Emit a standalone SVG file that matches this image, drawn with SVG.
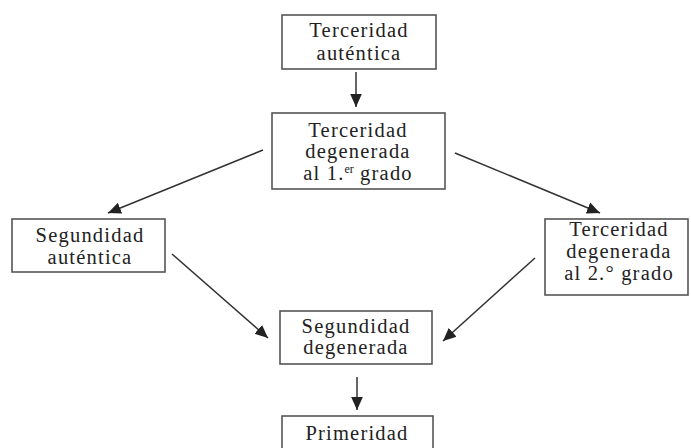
<svg xmlns="http://www.w3.org/2000/svg" width="691" height="448" viewBox="0 0 691 448">
  <style>
    .box rect { fill: #fff; stroke: #555; stroke-width: 1.6; }
    .box text { font-family: "Liberation Serif", "Times New Roman", serif; font-size: 20.5px; letter-spacing: 1.2px; fill: #222; text-anchor: middle; }
    .sup { font-size: 12px; letter-spacing: 0; }
    #connectors line { stroke: #333; stroke-width: 1.5; marker-end: url(#arrow); }
  </style>
  <defs>
    <marker id="arrow" viewBox="0 0 10 10" refX="10" refY="5" markerWidth="13" markerHeight="13" markerUnits="userSpaceOnUse" orient="auto">
      <path d="M0,0.5 L10,5 L0,9.5 z" fill="#222"/>
    </marker>
  </defs>
  <rect width="691" height="448" fill="#fff"/>

  <g id="connectors">
    <line x1="356" y1="72" x2="356" y2="107"/>
    <line x1="263" y1="150" x2="108" y2="213"/>
    <line x1="455" y1="153" x2="600" y2="213"/>
    <line x1="172" y1="254" x2="268" y2="338"/>
    <line x1="535" y1="258" x2="443" y2="341"/>
    <line x1="357" y1="377" x2="357" y2="410"/>
  </g>

  <g id="n-terceridad-autentica" class="box">
    <rect x="282" y="15" width="154" height="54"/>
    <text x="359" y="37">Terceridad</text>
    <text x="359" y="60">auténtica</text>
  </g>

  <g id="n-terceridad-deg1" class="box">
    <rect x="272" y="113" width="173" height="76"/>
    <text x="358" y="137">Terceridad</text>
    <text x="358" y="158">degenerada</text>
    <text x="358" y="180">al 1.<tspan class="sup" dy="-7">er</tspan><tspan dy="7"> grado</tspan></text>
  </g>

  <g id="n-segundidad-autentica" class="box">
    <rect x="12" y="219" width="153" height="53"/>
    <text x="90" y="242">Segundidad</text>
    <text x="90" y="264">auténtica</text>
  </g>

  <g id="n-terceridad-deg2" class="box">
    <rect x="545" y="219" width="143" height="76"/>
    <text x="619" y="236">Terceridad</text>
    <text x="619" y="258">degenerada</text>
    <text x="619" y="280">al 2.° grado</text>
  </g>

  <g id="n-segundidad-degenerada" class="box">
    <rect x="280" y="311" width="152" height="53"/>
    <text x="356" y="333">Segundidad</text>
    <text x="356" y="354">degenerada</text>
  </g>

  <g id="n-primeridad" class="box">
    <rect x="282" y="416" width="151" height="54"/>
    <text x="357" y="440">Primeridad</text>
  </g>
</svg>
